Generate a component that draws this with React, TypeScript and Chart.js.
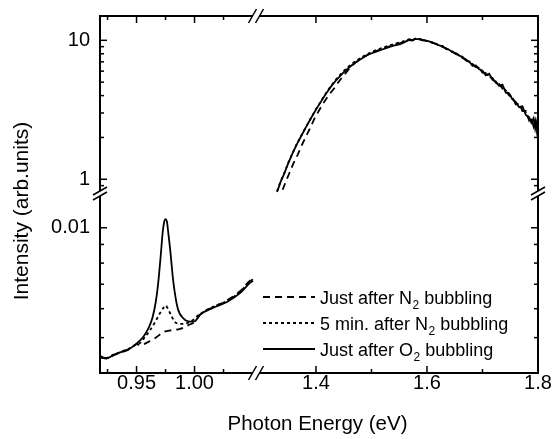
import React, { useEffect, useRef } from "react";
import { Chart, registerables } from "chart.js";

Chart.register(...registerables);

const FONT = "'Liberation Sans', Arial, Helvetica, sans-serif";
const W = 553;
const H = 439;

// ---------- axis ranges (broken axes) ----------
const X_LOW_RANGE = [0.9185, 1.053];
const X_HIGH_RANGE = [1.292, 1.8];
const Y_LOW_RANGE = [0.004, 0.01241];
const Y_HIGH_RANGE = [0.79, 14.96];

// ---------- ticks ----------
const X_LOW_TICKS = [0.925, 0.95, 0.975, 1.0, 1.025];
const X_LOW_LABELS = [0.95, 1.0];
const X_HIGH_TICKS = [1.4, 1.5, 1.6, 1.7, 1.8];
const X_HIGH_LABELS = [1.4, 1.6, 1.8];
const Y_HIGH_TICKS = [0.9, 1, 2, 3, 4, 5, 6, 7, 8, 9, 10];
const Y_HIGH_LABELS = [1, 10];
const Y_LOW_TICKS = [0.004, 0.005, 0.006, 0.007, 0.008, 0.009, 0.01];
const Y_LOW_LABELS = [0.01];

const X_TITLE = "Photon Energy (eV)";
const Y_TITLE = "Intensity (arb.units)";

// legend text: [before subscript, subscript, after]
const SERIES_NAMES = [
  ["Just after N", "2", " bubbling"],
  ["5 min. after N", "2", " bubbling"],
  ["Just after O", "2", " bubbling"],
];

// ---------- low-energy window (0.92 - 1.05 eV) ----------
const LOW_N2_X = [0.9185, 0.9243, 0.93, 0.9372, 0.9444, 0.9502, 0.953, 0.9599, 0.9674, 0.9731, 0.9803, 0.9875, 0.9947, 1.0004, 1.0047, 1.0159, 1.028, 1.0392, 1.0478, 1.0504];
const LOW_N2_Y = [0.00441, 0.00438, 0.00447, 0.00456, 0.00466, 0.0048, 0.00477, 0.00486, 0.00502, 0.00518, 0.00524, 0.00528, 0.00541, 0.00553, 0.00578, 0.00606, 0.00632, 0.0067, 0.00716, 0.00726];

const LOW_N2_5MIN_X = [0.9185, 0.9243, 0.93, 0.9372, 0.9444, 0.9502, 0.953, 0.9573, 0.9616, 0.966, 0.9703, 0.9737, 0.9752, 0.977, 0.9797, 0.9832, 0.989, 0.9961, 1.0047, 1.0159, 1.028, 1.0392, 1.0478, 1.0504];
const LOW_N2_5MIN_Y = [0.00445, 0.0044, 0.00449, 0.00458, 0.00468, 0.0048, 0.00483, 0.00502, 0.00524, 0.00551, 0.00584, 0.00606, 0.00612, 0.006, 0.00577, 0.00551, 0.00545, 0.00552, 0.0058, 0.00607, 0.0063, 0.00668, 0.00712, 0.00722];

const LOW_O2_X = [0.9185, 0.9243, 0.93, 0.9372, 0.9444, 0.9502, 0.9559, 0.9602, 0.9636, 0.9666, 0.9688, 0.9709, 0.9726, 0.9738, 0.975, 0.9762, 0.9775, 0.9789, 0.9817, 0.9855, 0.9903, 0.9961, 1.0004, 1.0047, 1.0159, 1.028, 1.0392, 1.0478, 1.0504];
const LOW_O2_Y = [0.00443, 0.00439, 0.00448, 0.00457, 0.00467, 0.00482, 0.00503, 0.0053, 0.00565, 0.00627, 0.00712, 0.00842, 0.00975, 0.01035, 0.01055, 0.0104, 0.0096, 0.00878, 0.00712, 0.00602, 0.00565, 0.00553, 0.00555, 0.00577, 0.00603, 0.00626, 0.00662, 0.00706, 0.00715];

// ---------- high-energy window (1.29 - 1.8 eV) ----------
const HIGH_N2_RISE_X = [1.34, 1.346, 1.352, 1.359, 1.367, 1.374, 1.382, 1.39, 1.397, 1.406, 1.415, 1.424, 1.433, 1.442, 1.451, 1.46, 1.469, 1.481, 1.493, 1.505, 1.517, 1.53, 1.54, 1.55];
const HIGH_N2_RISE_Y = [0.84, 0.97, 1.105, 1.29, 1.5, 1.74, 2.03, 2.36, 2.72, 3.15, 3.62, 4.08, 4.52, 5.1, 5.65, 6.25, 6.8, 7.38, 7.88, 8.28, 8.6, 8.98, 9.25, 9.5];
const HIGH_RISE_X = [1.33, 1.336, 1.343, 1.35, 1.358, 1.365, 1.373, 1.382, 1.391, 1.4, 1.409, 1.418, 1.427, 1.437, 1.448, 1.458, 1.469, 1.481, 1.493, 1.505, 1.517, 1.53, 1.54, 1.55];
const HIGH_N2_5MIN_RISE_Y = [0.82, 0.96, 1.11, 1.31, 1.55, 1.78, 2.04, 2.38, 2.76, 3.19, 3.65, 4.16, 4.7, 5.28, 5.9, 6.42, 6.97, 7.5, 8.0, 8.4, 8.75, 9.12, 9.4, 9.62];
const HIGH_O2_RISE_Y = [0.81, 0.95, 1.1, 1.3, 1.54, 1.77, 2.03, 2.37, 2.75, 3.17, 3.62, 4.12, 4.64, 5.2, 5.79, 6.3, 6.83, 7.35, 7.84, 8.2, 8.52, 8.9, 9.15, 9.35];

const HIGH_TAIL_X = [1.556, 1.562, 1.568, 1.574, 1.58, 1.586, 1.592, 1.598, 1.604, 1.61, 1.616, 1.622, 1.628, 1.634, 1.64, 1.646, 1.652, 1.658, 1.664, 1.67, 1.676, 1.682, 1.688, 1.694, 1.7, 1.706, 1.712, 1.718, 1.724, 1.73, 1.736, 1.742, 1.748, 1.754, 1.76, 1.766, 1.772, 1.778, 1.784, 1.788, 1.792, 1.795, 1.798, 1.8];
const HIGH_N2_TAIL_Y = [9.65, 9.9, 10.1, 10.05, 10.2, 10.25, 10.0, 10.0, 9.75, 9.65, 9.4, 9.25, 8.95, 8.8, 8.45, 8.3, 7.95, 7.85, 7.45, 7.3, 6.9, 6.75, 6.4, 6.35, 5.85, 5.8, 5.45, 5.35, 4.9, 4.85, 4.5, 4.4, 4.0, 3.9, 3.45, 3.5, 3.1, 3.1, 2.65, 2.8, 2.4, 2.65, 2.2, 2.5];
const HIGH_N2_5MIN_TAIL_Y = [9.8, 9.95, 10.2, 10.1, 10.3, 10.2, 10.15, 9.9, 9.9, 9.55, 9.5, 9.1, 9.1, 8.65, 8.6, 8.25, 8.05, 7.8, 7.5, 7.25, 6.95, 6.65, 6.5, 6.3, 5.95, 5.75, 5.55, 5.3, 4.95, 4.8, 4.6, 4.35, 4.05, 3.85, 3.5, 3.45, 3.2, 3.05, 2.7, 2.7, 2.45, 2.55, 2.25, 2.45];
const HIGH_O2_TAIL_Y = [9.55, 9.82, 10.05, 9.95, 10.25, 10.15, 10.05, 9.95, 9.82, 9.6, 9.45, 9.18, 9.05, 8.7, 8.55, 8.2, 8.1, 7.75, 7.6, 7.15, 7.05, 6.55, 6.6, 6.2, 6.05, 5.6, 5.75, 5.2, 5.05, 4.7, 4.8, 4.2, 4.15, 3.75, 3.6, 3.3, 3.35, 2.9, 2.8, 2.55, 2.75, 2.3, 2.6, 2.1];

const DASHES = [[7, 5], [3, 3], []];

const pts = (xs: number[], ys: number[]) => xs.map((x, i) => ({ x, y: ys[i] }));

const MAJOR: Record<string, number[]> = {
  xLow: X_LOW_LABELS,
  xTopLow: X_LOW_LABELS,
  xHigh: X_HIGH_LABELS,
  xTopHigh: X_HIGH_LABELS,
  yHigh: Y_HIGH_LABELS,
  yRightHigh: Y_HIGH_LABELS,
  yLow: Y_LOW_LABELS,
  yRightLow: Y_LOW_LABELS,
};

// size: fixed thickness of the axis box (room for labels)
function mkScale(o: any) {
  return {
    type: o.type,
    axis: o.axis,
    position: o.position,
    stack: o.stack,
    stackWeight: o.sw,
    weight: o.w,
    min: o.range[0],
    max: o.range[1],
    grid: { display: true, drawOnChartArea: false, drawTicks: false },
    border: { display: true, color: "#000", width: 2 },
    ticks: {
      display: !!o.labels,
      autoSkip: false,
      maxRotation: 0,
      minRotation: 0,
      padding: o.pad ?? 0,
      color: "#000",
      font: { family: FONT, size: 20 },
      callback: (v: any) => (o.labels && o.labels.includes(v) ? o.fmt(v) : ""),
    },
    afterBuildTicks: (s: any) => {
      s.ticks = o.ticks.map((v: number) => ({ value: v }));
    },
    afterFit: (s: any) => {
      if (s.isHorizontal()) s.height = o.size;
      else s.width = o.size;
      s.paddingTop = 0;
      s.paddingBottom = 0;
      s.paddingLeft = 0;
      s.paddingRight = 0;
    },
  };
}

const framePlugin = {
  id: "frameDecor",
  afterDraw(chart: any) {
    const ctx = chart.ctx;
    const ca = chart.chartArea;
    ctx.save();
    ctx.strokeStyle = "#000";
    ctx.lineWidth = 1.5;
    ctx.setLineDash([]);
    // inward ticks, at the chart-area edge of each scale
    for (const id of Object.keys(chart.scales)) {
      const s = chart.scales[id];
      const majors = MAJOR[id] || [];
      for (const t of s.ticks) {
        const p = s.getPixelForValue(t.value);
        const len = majors.includes(t.value) ? 7 : 4;
        ctx.beginPath();
        if (s.position === "bottom") {
          ctx.moveTo(p, ca.bottom);
          ctx.lineTo(p, ca.bottom - len);
        } else if (s.position === "top") {
          ctx.moveTo(p, ca.top);
          ctx.lineTo(p, ca.top + len);
        } else if (s.position === "left") {
          ctx.moveTo(ca.left, p);
          ctx.lineTo(ca.left + len, p);
        } else {
          ctx.moveTo(ca.right, p);
          ctx.lineTo(ca.right - len, p);
        }
        ctx.stroke();
      }
    }
    // axis breaks
    const bx = chart.scales.xLow.right;
    const by = chart.scales.yHigh.bottom;
    const k = 1.43;
    const breakH = (x: number, y: number) => {
      ctx.fillStyle = "#fff";
      ctx.beginPath();
      ctx.moveTo(x - 3.5 - k, y + 2.5);
      ctx.lineTo(x - 3.5 + k, y - 2.5);
      ctx.lineTo(x + 3.5 + k, y - 2.5);
      ctx.lineTo(x + 3.5 - k, y + 2.5);
      ctx.closePath();
      ctx.fill();
      ctx.beginPath();
      for (const d of [-3.5, 3.5]) {
        ctx.moveTo(x + d - 4, y + 7);
        ctx.lineTo(x + d + 4, y - 7);
      }
      ctx.stroke();
    };
    const breakV = (x: number, y: number) => {
      ctx.fillStyle = "#fff";
      ctx.beginPath();
      ctx.moveTo(x - 2.5, y - 2.5 + k);
      ctx.lineTo(x + 2.5, y - 2.5 - k);
      ctx.lineTo(x + 2.5, y + 2.5 - k);
      ctx.lineTo(x - 2.5, y + 2.5 + k);
      ctx.closePath();
      ctx.fill();
      ctx.beginPath();
      for (const d of [-2.5, 2.5]) {
        ctx.moveTo(x - 7, y + d + 4);
        ctx.lineTo(x + 7, y + d - 4);
      }
      ctx.stroke();
    };
    breakH(bx, ca.bottom);
    breakH(bx, ca.top);
    breakV(ca.left, by);
    breakV(ca.right, by);

    // axis titles
    ctx.fillStyle = "#000";
    ctx.textBaseline = "alphabetic";
    ctx.textAlign = "center";
    ctx.font = `20.5px ${FONT}`;
    ctx.fillText(X_TITLE, (ca.left + ca.right) / 2 - 1.5, 430);
    ctx.save();
    ctx.translate(27.5, 211);
    ctx.rotate(-Math.PI / 2);
    ctx.font = `21px ${FONT}`;
    ctx.fillText(Y_TITLE, 0, 0);
    ctx.restore();

    // legend (inside plot, bottom right)
    const baselines = [303.5, 329.5, 355.5];
    ctx.textAlign = "left";
    for (let i = 0; i < SERIES_NAMES.length; i++) {
      const ds = chart.data.datasets[i + 3];
      const base = baselines[i];
      ctx.lineWidth = ds.borderWidth;
      ctx.setLineDash(ds.borderDash || []);
      ctx.beginPath();
      ctx.moveTo(263, base - 6.5);
      ctx.lineTo(315, base - 6.5);
      ctx.stroke();
      ctx.setLineDash([]);
      const [pre, sub, post] = SERIES_NAMES[i];
      let x = 320;
      ctx.font = `18px ${FONT}`;
      ctx.fillText(pre, x, base);
      x += ctx.measureText(pre).width + 0.5;
      ctx.font = `12px ${FONT}`;
      ctx.fillText(sub, x, base + 5);
      x += ctx.measureText(sub).width;
      ctx.font = `18px ${FONT}`;
      ctx.fillText(post, x, base);
    }
    ctx.restore();
  },
};

export default function App() {
  const canvasRef = useRef<HTMLCanvasElement | null>(null);

  useEffect(() => {
    const canvas = canvasRef.current;
    if (!canvas) return;
    Chart.defaults.font.family = FONT;

    const mk = (label: string, data: any[], xid: string, yid: string, dash: number[], smooth: boolean) => ({
      label,
      data,
      xAxisID: xid,
      yAxisID: yid,
      borderColor: "#000",
      backgroundColor: "#000",
      borderWidth: 1.8,
      borderDash: dash,
      pointRadius: 0,
      fill: false,
      tension: smooth ? 0.4 : 0,
      cubicInterpolationMode: smooth ? "monotone" : "default",
    });

    const names = SERIES_NAMES.map((s) => s.join(""));

    const chart = new Chart(canvas, {
      type: "line",
      data: {
        datasets: [
          mk(names[0], pts(LOW_N2_X, LOW_N2_Y), "xLow", "yLow", DASHES[0], true),
          mk(names[1], pts(LOW_N2_5MIN_X, LOW_N2_5MIN_Y), "xLow", "yLow", DASHES[1], true),
          mk(names[2], pts(LOW_O2_X, LOW_O2_Y), "xLow", "yLow", DASHES[2], true),
          mk(names[0], pts(HIGH_N2_RISE_X.concat(HIGH_TAIL_X), HIGH_N2_RISE_Y.concat(HIGH_N2_TAIL_Y)), "xHigh", "yHigh", DASHES[0], false),
          mk(names[1], pts(HIGH_RISE_X.concat(HIGH_TAIL_X), HIGH_N2_5MIN_RISE_Y.concat(HIGH_N2_5MIN_TAIL_Y)), "xHigh", "yHigh", DASHES[1], false),
          mk(names[2], pts(HIGH_RISE_X.concat(HIGH_TAIL_X), HIGH_O2_RISE_Y.concat(HIGH_O2_TAIL_Y)), "xHigh", "yHigh", DASHES[2], false),
        ],
      },
      options: {
        responsive: false,
        animation: false,
        events: [],
        layout: { padding: { left: 0, top: 0, right: 0, bottom: 0 } },
        plugins: { legend: { display: false }, tooltip: { enabled: false }, title: { display: false } },
        scales: {
          xLow: mkScale({ type: "linear", axis: "x", position: "bottom", stack: "bottom", sw: 156, w: 1, size: 66, range: X_LOW_RANGE, ticks: X_LOW_TICKS, labels: X_LOW_LABELS, fmt: (v: number) => v.toFixed(2), pad: -1.5 }),
          xHigh: mkScale({ type: "linear", axis: "x", position: "bottom", stack: "bottom", sw: 282, w: 2, size: 66, range: X_HIGH_RANGE, ticks: X_HIGH_TICKS, labels: X_HIGH_LABELS, fmt: (v: number) => v.toFixed(1), pad: -1.5 }),
          xTopLow: mkScale({ type: "linear", axis: "x", position: "top", stack: "top", sw: 156, w: 2, size: 16, range: X_LOW_RANGE, ticks: X_LOW_TICKS }),
          xTopHigh: mkScale({ type: "linear", axis: "x", position: "top", stack: "top", sw: 282, w: 1, size: 16, range: X_HIGH_RANGE, ticks: X_HIGH_TICKS }),
          yHigh: mkScale({ type: "logarithmic", axis: "y", position: "left", stack: "left", sw: 177.5, w: 2, size: 100, range: Y_HIGH_RANGE, ticks: Y_HIGH_TICKS, labels: Y_HIGH_LABELS, fmt: (v: number) => String(v), pad: 10 }),
          yLow: mkScale({ type: "logarithmic", axis: "y", position: "left", stack: "left", sw: 179.5, w: 1, size: 100, range: Y_LOW_RANGE, ticks: Y_LOW_TICKS, labels: Y_LOW_LABELS, fmt: (v: number) => String(v), pad: 10 }),
          yRightHigh: mkScale({ type: "logarithmic", axis: "y", position: "right", stack: "right", sw: 177.5, w: 1, size: 15, range: Y_HIGH_RANGE, ticks: Y_HIGH_TICKS }),
          yRightLow: mkScale({ type: "logarithmic", axis: "y", position: "right", stack: "right", sw: 179.5, w: 2, size: 15, range: Y_LOW_RANGE, ticks: Y_LOW_TICKS }),
        },
      } as any,
      plugins: [framePlugin],
    } as any);

    return () => chart.destroy();
  }, []);

  return (
    <div style={{ position: "fixed", left: 0, top: 0, width: W, height: H, background: "#fff" }}>
      <canvas ref={canvasRef} width={W} height={H} style={{ display: "block", width: W, height: H }} />
    </div>
  );
}
